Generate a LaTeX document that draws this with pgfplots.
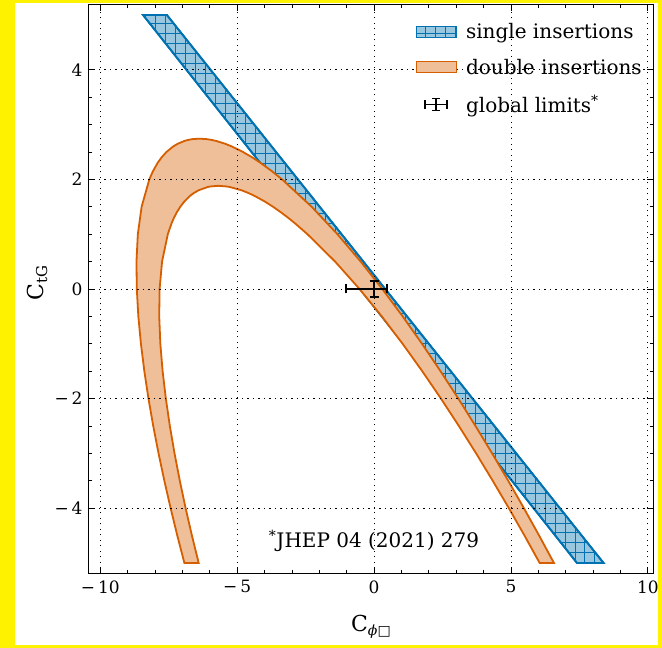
\documentclass[border=0pt]{standalone}
\usepackage{fontspec}
\setmainfont{DejaVu Serif}
\newfontfamily\dvsans{DejaVu Sans}
\usepackage{pgfplots}
\pgfplotsset{compat=1.18}
\usetikzlibrary{patterns}

\definecolor{cbblue}{RGB}{0,114,178}
\definecolor{cbbluefill}{RGB}{153,199,224}
\definecolor{cborange}{RGB}{213,94,0}
\definecolor{cborangefill}{RGB}{238,191,153}

% "+" hatch, about 10px per cell
\pgfdeclarepatternformonly{plushatch}{\pgfqpoint{-1pt}{-1pt}}{\pgfqpoint{11pt}{11pt}}{\pgfqpoint{10pt}{10pt}}{
  \pgfsetlinewidth{0.8pt}
  \pgfpathmoveto{\pgfqpoint{0pt}{5pt}}\pgfpathlineto{\pgfqpoint{10pt}{5pt}}
  \pgfpathmoveto{\pgfqpoint{5pt}{0pt}}\pgfpathlineto{\pgfqpoint{5pt}{10pt}}
  \pgfusepath{stroke}}

\pgfplotsset{
  patchlegend/.style={legend image code/.code={
    \draw[##1, line width=1pt] (0pt,-5.5pt) rectangle (40pt,5.5pt);}},
  errlegend/.style={legend image code/.code={
    \draw[opacity=0] (0pt,-5.5pt) -- (40pt,5.5pt);
    \draw[black, line width=1.5pt] (9pt,0pt)--(31pt,0pt) (9pt,-4.5pt)--(9pt,4.5pt) (31pt,-4.5pt)--(31pt,4.5pt)
        (20pt,-6pt)--(20pt,6pt) (16pt,-6pt)--(24pt,-6pt) (16pt,6pt)--(24pt,6pt);}},
}

\begin{document}
\begin{tikzpicture}
\fill[yellow] (0,0) rectangle (662pt,648pt);
\fill[white] (15.5pt,2.5pt) rectangle (657.7pt,645pt);
\begin{axis}[
    at={(88pt,74pt)}, anchor=south west,
    scale only axis, width=566pt, height=570pt,
    xmin=-10.45, xmax=10.22, ymin=-5.2, ymax=5.2,
    axis on top,
    axis line style={black, line width=0.8pt},
    tick align=inside, xtick pos=both, ytick pos=both,
    tick style={black, line width=0.8pt},
    major tick length=7pt, minor tick length=4pt,
    xtick={-10,-5,0,5,10}, xticklabels={−\,10,−\,5,0,5,10},
    ytick={-4,-2,0,2,4}, yticklabels={−\,4,−\,2,0,2,4},
    minor x tick num=4, minor y tick num=3,
    grid=major,
    major grid style={black, line width=0.8pt, dash pattern=on 1.2pt off 4.3pt},
    ticklabel style={font=\fontsize{17}{20}\selectfont},
    xticklabel style={yshift=-3pt},
    yticklabel style={xshift=-2pt},
    xlabel={C\raisebox{-4pt}{\fontsize{14}{16}\selectfont\itshape ϕ\upshape\dvsans □}},
    ylabel={C\raisebox{-4pt}{\fontsize{15}{17}\selectfont tG}},
    label style={font=\fontsize{22}{26}\selectfont},
    xlabel style={at={(axis description cs:0.5,-0.092)}, anchor=center},
    ylabel style={at={(axis description cs:-0.09,0.51)}, anchor=center},
    legend cell align=left,
    legend style={draw=none, fill=none, at={(rel axis cs:0.578,0.970)}, anchor=north west,
        font=\fontsize{20}{24}\selectfont, row sep=15pt, inner sep=0pt},
]
% single insertions
\addplot[draw=cbblue, line width=1.8pt, fill=cbbluefill,
    postaction={pattern=plushatch, pattern color=cbblue}, patchlegend]
    coordinates {(-8.44,5) (-7.57,5) (8.38,-5) (7.41,-5)} -- cycle;
\addlegendentry{\hspace*{7pt}single insertions}

% double insertions: outer curve, then inner curve back
\addplot[draw=cborange, line width=1.8pt, fill=cborangefill, patchlegend]
    coordinates {
    (-6.929,-5) (-7.188,-4.5) (-7.432,-4) (-7.661,-3.5) (-7.873,-3) (-8.067,-2.5)
    (-8.241,-2) (-8.392,-1.5) (-8.516,-1) (-8.611,-0.5) (-8.667,0) (-8.679,0.5)
    (-8.629,1) (-8.491,1.5) (-8.209,2) (-8.076,2.15) (-7.906,2.3) (-7.764,2.4)
    (-7.583,2.5) (-7.339,2.6) (-7.171,2.65) (-6.932,2.7) (-6.787,2.72) (-6.618,2.735)
    (-6.380,2.742)
    (-6.131,2.735) (-5.937,2.72) (-5.761,2.7) (-5.442,2.65) (-5.194,2.6) (-4.790,2.5)
    (-4.449,2.4) (-4.146,2.3) (-3.736,2.15) (-3.363,2) (-2.280,1.5) (-1.341,1)
    (-0.490,0.5) (0.299,0) (1.043,-0.5) (1.750,-1) (2.426,-1.5) (3.076,-2)
    (3.703,-2.5) (4.310,-3) (4.899,-3.5) (5.471,-4) (6.028,-4.5) (6.569,-5)
    (6.047,-5) (5.493,-4.5) (4.922,-4) (4.333,-3.5) (3.726,-3) (3.096,-2.5)
    (2.441,-2) (1.758,-1.5) (1.041,-1) (0.281,-0.5) (-0.534,0) (-1.425,0.5)
    (-2.436,1) (-2.895,1.2) (-3.143,1.3) (-3.407,1.4) (-3.692,1.5) (-4.008,1.6)
    (-4.374,1.7) (-4.587,1.75) (-4.839,1.8) (-5.269,1.86) (-5.387,1.87)
    (-5.691,1.882)
    (-5.977,1.87) (-6.078,1.86) (-6.412,1.8) (-6.585,1.75) (-6.718,1.7) (-6.922,1.6)
    (-7.078,1.5) (-7.204,1.4) (-7.308,1.3) (-7.395,1.2) (-7.534,1) (-7.744,0.5)
    (-7.834,0) (-7.848,-0.5) (-7.807,-1) (-7.724,-1.5) (-7.606,-2) (-7.460,-2.5)
    (-7.289,-3) (-7.096,-3.5) (-6.884,-4) (-6.654,-4.5) (-6.407,-5)
    } -- cycle;
\addlegendentry{\hspace*{7pt}double insertions}

% global limits
\addplot[black, line width=1.8pt, mark=none, errlegend,
    error bars/.cd, x dir=both, x explicit, y dir=both, y explicit,
    error bar style={line width=1.8pt, black},
    error mark options={rotate=90, mark size=4.5pt, line width=1.8pt, black}]
    coordinates {(0,0) += (0.48,0.15) -= (1.04,0.15)};
\addlegendentry{\hspace*{7pt}global limits\textsuperscript{*}}

\node[font=\fontsize{20}{24}\selectfont] at (axis cs:0,-4.6) {\textsuperscript{*}JHEP 04 (2021) 279};
\end{axis}
\end{tikzpicture}
\end{document}
